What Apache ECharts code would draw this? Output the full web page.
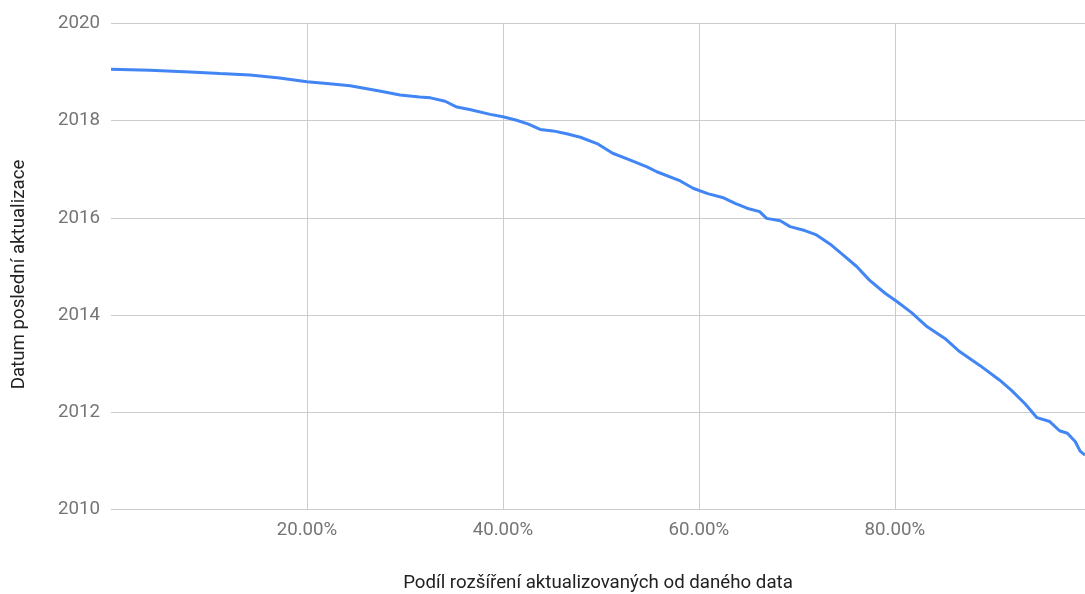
<!DOCTYPE html>
<html>
<head>
<meta charset="utf-8">
<script src="https://cdn.jsdelivr.net/npm/echarts@6/dist/echarts.min.js"></script>
<style>
html,body{margin:0;padding:0;background:#fff;}
#chart{width:1085px;height:594px;}
</style>
</head>
<body>
<div id="chart"></div>
<script>
// Share of extensions (%) updated since the given date
var sharePct = [0, 3.98, 8.06, 11.1, 14.2, 17.2, 20.0, 22.3, 24.4, 27.4, 29.5, 31.5, 32.6, 34.1, 35.3, 36.6, 38.7, 40.0, 41.4, 42.6, 43.8, 45.1, 46.5, 47.9, 49.6, 51.2, 53.0, 54.7, 55.7, 58.1, 59.4, 60.9, 62.4, 63.7, 64.9, 66.2, 66.9, 68.3, 69.3, 70.8, 72.0, 73.4, 74.7, 76.1, 77.4, 79.0, 80.2, 81.7, 83.3, 85.1, 86.6, 88.7, 90.7, 91.9, 93.3, 94.5, 95.8, 96.8, 97.6, 98.4, 98.9, 99.4];
// Date of last update (fractional year)
var lastUpdate = [2019.06, 2019.04, 2019.00, 2018.97, 2018.94, 2018.88, 2018.80, 2018.76, 2018.72, 2018.61, 2018.53, 2018.49, 2018.47, 2018.40, 2018.28, 2018.23, 2018.13, 2018.08, 2018.01, 2017.93, 2017.82, 2017.79, 2017.73, 2017.66, 2017.53, 2017.33, 2017.19, 2017.05, 2016.95, 2016.76, 2016.61, 2016.50, 2016.42, 2016.30, 2016.20, 2016.13, 2015.99, 2015.94, 2015.82, 2015.74, 2015.65, 2015.46, 2015.24, 2015.00, 2014.72, 2014.45, 2014.28, 2014.05, 2013.76, 2013.52, 2013.25, 2012.96, 2012.66, 2012.45, 2012.17, 2011.89, 2011.81, 2011.62, 2011.57, 2011.40, 2011.20, 2011.12];
var xTicks = [20, 40, 60, 80];
var yTicks = [2010, 2012, 2014, 2016, 2018, 2020];

var points = sharePct.map(function (x, i) { return [x, lastUpdate[i]]; });

var FS = 18.7;
var chart = echarts.init(document.getElementById('chart'), null, {renderer: 'canvas'});
chart.setOption({
  animation: false,
  backgroundColor: '#ffffff',
  grid: {left: 111, right: 0, top: 23.5, bottom: 84.5, containLabel: false, outerBoundsMode: 'none'},
  xAxis: {
    type: 'value',
    min: 0,
    max: sharePct[sharePct.length - 1],
    interval: 20,
    name: 'Podíl rozšíření aktualizovaných od daného data',
    nameLocation: 'middle',
    nameGap: 64,
    nameTextStyle: {color: '#222222', fontSize: FS, fontFamily: 'Roboto'},
    axisLine: {show: false},
    axisTick: {show: false},
    axisLabel: {
      color: '#757575', fontSize: FS, fontFamily: 'Roboto', margin: 11,
      showMinLabel: false, showMaxLabel: false,
      formatter: function (v) { return xTicks.indexOf(v) >= 0 ? v.toFixed(2) + '%' : ''; }
    },
    splitLine: {show: true, showMinLine: false, showMaxLine: false, lineStyle: {color: '#cccccc', width: 1}}
  },
  yAxis: {
    type: 'value',
    min: yTicks[0],
    max: yTicks[yTicks.length - 1],
    interval: 2,
    name: 'Datum poslední aktualizace',
    nameLocation: 'middle',
    nameGap: 82,
    nameTextStyle: {color: '#222222', fontSize: FS, fontFamily: 'Roboto', padding: [0, 16, 0, 0]},
    axisLine: {show: false},
    axisTick: {show: false},
    axisLabel: {color: '#757575', fontSize: FS, fontFamily: 'Roboto', margin: 11,
      formatter: function (v) { return String(v); }},
    splitLine: {show: true, lineStyle: {color: '#cccccc', width: 1}}
  },
  series: [{
    type: 'line',
    data: points,
    showSymbol: false,
    symbol: 'none',
    lineStyle: {color: '#4285f4', width: 3},
    clip: false
  }]
});
</script>
</body>
</html>
